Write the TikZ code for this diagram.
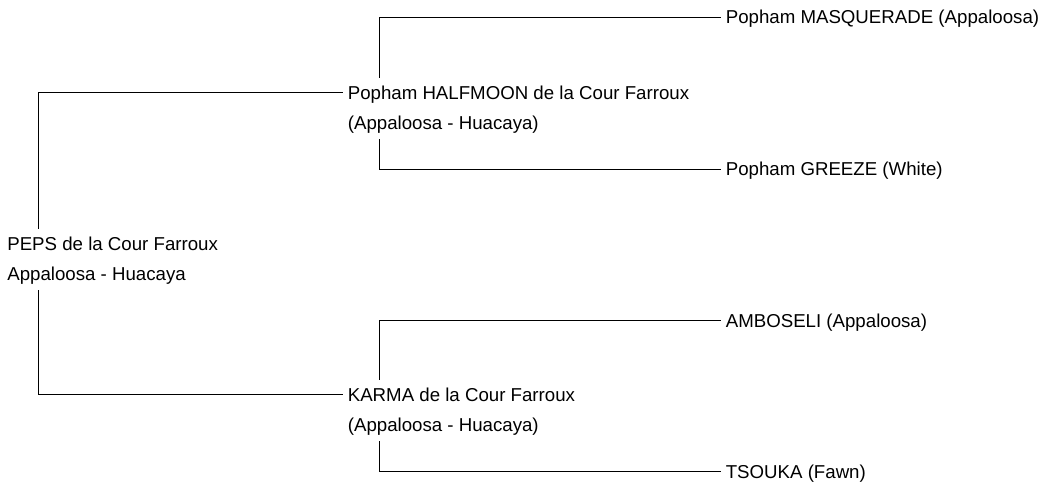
\documentclass[tikz,border=0pt]{standalone}
\usepackage{fontspec}
\setmainfont{Liberation Sans}
\usetikzlibrary{positioning}
\tikzset{
    line width=1pt, auto,
    alpaca/.style = {anchor=west, inner sep=0pt, outer xsep=4pt, outer ysep=6pt,
                     text height=10pt, text depth=0pt, font=\fontsize{14pt}{16pt}\selectfont},
    fleece/.style = {alpaca, text depth=1.5pt},
    bar/.style = {xshift=27.4pt}
}

\begin{document}
\begin{tikzpicture}[x=0.75pt,y=-0.75pt]
    \useasboundingbox (0,0) rectangle (1040,482);

    % generation 1
	\node[alpaca] (peps) at (2,243.5) {PEPS de la Cour Farroux};
	\node[fleece, below=0.5pt of peps.south west, anchor=north west] (peps-c) {Appaloosa - Huacaya};

    % generation 2
	\node[alpaca] (halfmoon) at (342.5,92.5) {Popham HALFMOON de la Cour Farroux};
	\node[fleece, below=0.5pt of halfmoon.south west, anchor=north west] (halfmoon-c) {(Appaloosa - Huacaya)};
	\node[alpaca] (karma) at (342.5,394.5) {KARMA de la Cour Farroux};
	\node[fleece, below=0.5pt of karma.south west, anchor=north west] (karma-c) {(Appaloosa - Huacaya)};

    % generation 3
	\node[alpaca] (masquerade) at (720.5,17) {Popham MASQUERADE (Appaloosa)};
	\node[alpaca] (greeze) at (720.5,169) {Popham GREEZE (White)};
	\node[alpaca] (amboseli) at (720.5,320.5) {AMBOSELI (Appaloosa)};
	\node[alpaca] (tsouka) at (720.5,471.5) {TSOUKA (Fawn)};

    \draw ([bar]peps.north west) |- (halfmoon.west);
    \draw ([bar]peps-c.south west) |- (karma.west);
    \draw ([bar]halfmoon.north west) |- (masquerade.west);
    \draw ([bar]halfmoon-c.south west) |- (greeze.west);
    \draw ([bar]karma.north west) |- (amboseli.west);
    \draw ([bar]karma-c.south west) |- (tsouka.west);
\end{tikzpicture}
\end{document}
